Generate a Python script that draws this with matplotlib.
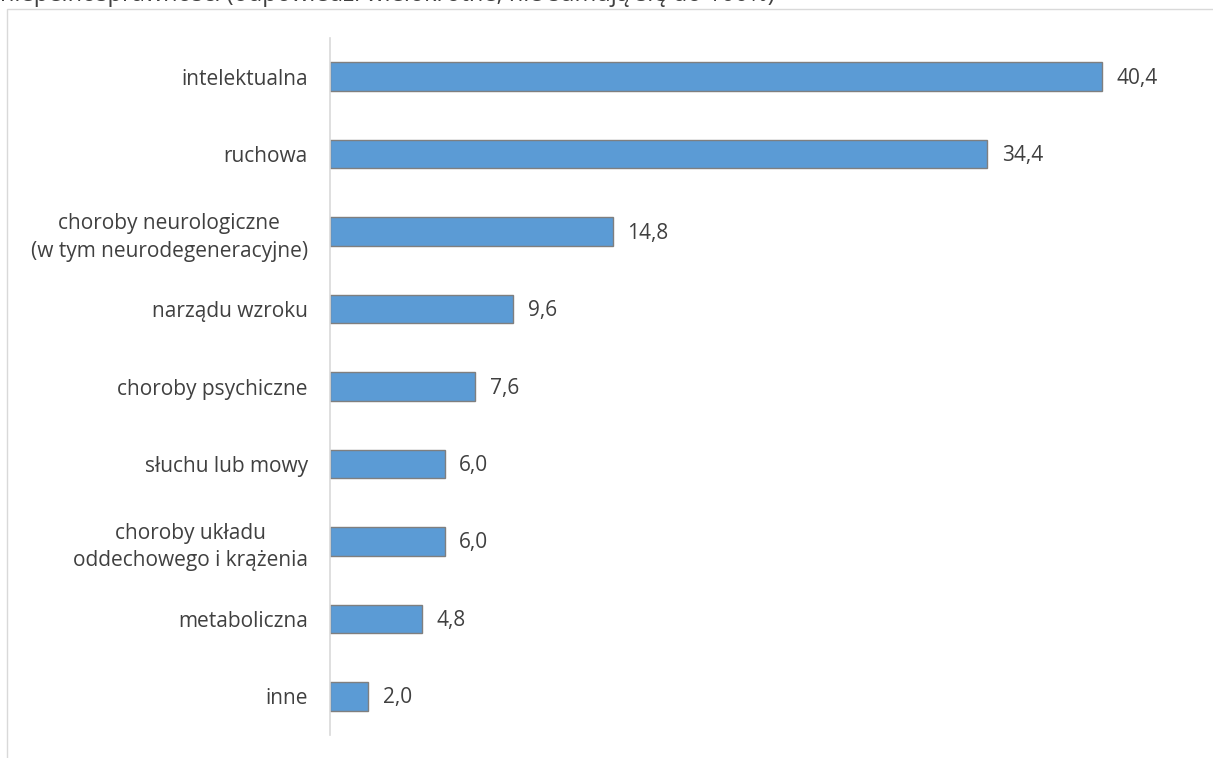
import matplotlib.pyplot as plt
from matplotlib.patches import Rectangle

categories = [
    "intelektualna",
    "ruchowa",
    "choroby neurologiczne\n(w tym neurodegeneracyjne)",
    "narządu wzroku",
    "choroby psychiczne",
    "słuchu lub mowy",
    "choroby układu\noddechowego i krążenia",
    "metaboliczna",
    "inne",
]
values = [40.4, 34.4, 14.8, 9.6, 7.6, 6.0, 6.0, 4.8, 2.0]
caption = "niepełnosprawności (odpowiedzi wielokrotne, nie sumują się do 100%)"

TEXT = "#404040"
BAR = "#5B9BD5"
EDGE = "#7F7F7F"
FS = 15

plt.rcParams["font.family"] = ["Open Sans", "DejaVu Sans"]

W, H = 1213, 758
fig = plt.figure(figsize=(W / 100, H / 100), dpi=100)

# chart frame, running off the right and bottom edges
fig.patches.append(Rectangle((7 / W, -0.05), 1.0, 1 - 9 / H + 0.05,
                             transform=fig.transFigure, fill=False,
                             edgecolor="#D9D9D9", linewidth=1.0))
# tail of the caption line from above, clipped by the top edge
fig.text(0.0, 1 - 1 / H, caption, ha="left", va="baseline",
         fontsize=17, color=TEXT)

ax = fig.add_axes([330 / W, 1 - 735 / H, 860 / W, 697 / H])
pos = list(range(len(categories)))
ax.barh(pos, values, height=0.37, color=BAR, edgecolor=EDGE, linewidth=1.0)
for y, v in zip(pos, values):
    ax.text(v + 0.75, y + 0.02, f"{v:.1f}".replace(".", ","), va="center",
            ha="left", fontsize=FS, color=TEXT)

ax.set_xlim(0, 45)
ax.set_ylim(len(categories) - 0.5, -0.5)
ax.set_yticks(pos)
ax.set_yticklabels(categories, fontsize=FS, color=TEXT, linespacing=1.4,
                   multialignment="center")
ax.tick_params(axis="y", length=0, pad=16)
ax.set_xticks([])
for side in ["top", "right", "bottom"]:
    ax.spines[side].set_visible(False)
ax.spines["left"].set_color("#D9D9D9")
ax.spines["left"].set_linewidth(1.2)
ax.patch.set_alpha(0)

fig.savefig("out.png", dpi=100)
